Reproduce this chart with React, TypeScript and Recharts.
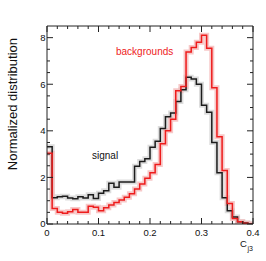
import { Line, LineChart, XAxis, YAxis } from "recharts";

const FONT = "'Liberation Sans', Arial, Helvetica, sans-serif";
const AXIS = "#222";
const RED = "#ee1c1c";
const BLACK = "#1c1c1c";

// lower edge of each 0.01 bin, plus the closing edge at 0.40
const binEdges = [
  0, 0.01, 0.02, 0.03, 0.04, 0.05, 0.06, 0.07, 0.08, 0.09, 0.1, 0.11, 0.12, 0.13, 0.14, 0.15, 0.16, 0.17, 0.18, 0.19,
  0.2, 0.21, 0.22, 0.23, 0.24, 0.25, 0.26, 0.27, 0.28, 0.29, 0.3, 0.31, 0.32, 0.33, 0.34, 0.35, 0.36, 0.37, 0.38, 0.39,
  0.4,
];

const signal = [
  3.32, 1.13, 1.17, 1.19, 1.12, 1.08, 1.17, 1.12, 1.26, 1.1, 1.32, 1.43, 1.75, 1.58, 1.8, 1.8, 1.8, 2.48, 2.68, 2.8,
  3.3, 3.55, 4.1, 4.6, 4.76, 5.26, 5.76, 6.3, 6.22, 6.0, 5.1, 4.8, 3.5, 2.2, 1.13, 0.57, 0.3, 0.1, 0.04, 0,
];

const backgrounds = [
  3.04, 0.67, 0.5, 0.46, 0.53, 0.62, 0.5, 0.5, 0.76, 0.72, 0.57, 0.7, 0.82, 0.92, 1.03, 1.15, 1.3, 1.5, 1.72, 1.96,
  2.2, 2.55, 3.45, 4.0, 4.5, 5.72, 5.9, 7.38, 7.58, 7.8, 8.1, 7.55, 5.85, 3.75, 2.3, 0.88, 0.24, 0.1, 0.03, 0,
];

const xTicks = [
  0, 0.02, 0.04, 0.06, 0.08, 0.1, 0.12, 0.14, 0.16, 0.18, 0.2, 0.22, 0.24, 0.26, 0.28, 0.3, 0.32, 0.34, 0.36, 0.38, 0.4,
];
const yTicks = [0, 0.5, 1, 1.5, 2, 2.5, 3, 3.5, 4, 4.5, 5, 5.5, 6, 6.5, 7, 7.5, 8];

const data = binEdges.map((x, i) => ({
  x,
  signal: signal[Math.min(i, signal.length - 1)],
  backgrounds: backgrounds[Math.min(i, backgrounds.length - 1)],
}));

const isMajorX = (v: number) => Math.abs(v * 10 - Math.round(v * 10)) < 1e-6;
const isMajorY = (v: number) => v % 2 === 0;

function tickX(side: "bottom" | "top") {
  return (props: any) => {
    const { x, y, payload } = props;
    const major = isMajorX(payload.value);
    const len = major ? 6 : 3;
    const dir = side === "bottom" ? -1 : 1;
    return (
      <g>
        <line x1={x} y1={y} x2={x} y2={y + dir * len} stroke={AXIS} strokeWidth={1} />
        {side === "bottom" && major && (
          <text x={x} y={y + 11.5} textAnchor="middle" fontSize={9.5} fontFamily={FONT} fill="#111">
            {String(Math.round(payload.value * 10) / 10)}
          </text>
        )}
      </g>
    );
  };
}

function tickY(side: "left" | "right") {
  return (props: any) => {
    const { x, y, payload } = props;
    const major = isMajorY(payload.value);
    const len = major ? 6 : 3;
    const dir = side === "left" ? 1 : -1;
    return (
      <g>
        <line x1={x} y1={y} x2={x + dir * len} y2={y} stroke={AXIS} strokeWidth={1} />
        {side === "left" && major && (
          <text x={x - 1.5} y={y + 3.4} textAnchor="end" fontSize={9.5} fontFamily={FONT} fill="#111">
            {payload.value}
          </text>
        )}
      </g>
    );
  };
}

export default function App() {
  return (
    <div style={{ position: "absolute", left: 0, top: 0, width: 266, height: 261, background: "#fff" }}>
      <LineChart width={266} height={261} data={data} margin={{ top: 25, right: 12, bottom: 36, left: 46 }}>
        <XAxis
          xAxisId="b"
          dataKey="x"
          type="number"
          domain={[0, 0.4]}
          allowDataOverflow
          ticks={xTicks}
          interval={0}
          height={1}
          tickSize={0}
          tickMargin={0}
          tickLine={false}
          axisLine={{ stroke: AXIS }}
          tick={tickX("bottom")}
        />
        <XAxis
          xAxisId="t"
          orientation="top"
          dataKey="x"
          type="number"
          domain={[0, 0.4]}
          allowDataOverflow
          ticks={xTicks}
          interval={0}
          height={1}
          tickSize={0}
          tickMargin={0}
          tickLine={false}
          axisLine={{ stroke: AXIS }}
          tick={tickX("top")}
        />
        <YAxis
          yAxisId="l"
          type="number"
          domain={[0, 8.5]}
          allowDataOverflow
          ticks={yTicks}
          interval={0}
          width={1}
          tickSize={0}
          tickMargin={0}
          tickLine={false}
          axisLine={{ stroke: AXIS }}
          tick={tickY("left")}
        />
        <YAxis
          yAxisId="r"
          orientation="right"
          type="number"
          domain={[0, 8.5]}
          allowDataOverflow
          ticks={yTicks}
          interval={0}
          width={1}
          tickSize={0}
          tickMargin={0}
          tickLine={false}
          axisLine={{ stroke: AXIS }}
          tick={tickY("right")}
        />
        <Line
          xAxisId="b"
          yAxisId="l"
          type="stepAfter"
          dataKey="signal"
          stroke="#cfcfcf"
          strokeOpacity={0.7}
          strokeWidth={5}
          dot={false}
          isAnimationActive={false}
        />
        <Line
          xAxisId="b"
          yAxisId="l"
          type="stepAfter"
          dataKey="backgrounds"
          stroke="#f3b0b0"
          strokeOpacity={0.7}
          strokeWidth={5}
          dot={false}
          isAnimationActive={false}
        />
        <Line
          xAxisId="b"
          yAxisId="l"
          type="stepAfter"
          dataKey="signal"
          stroke={BLACK}
          strokeWidth={1.5}
          dot={false}
          isAnimationActive={false}
        />
        <Line
          xAxisId="b"
          yAxisId="l"
          type="stepAfter"
          dataKey="backgrounds"
          stroke={RED}
          strokeWidth={1.5}
          dot={false}
          isAnimationActive={false}
        />
      </LineChart>
      <svg
        width={266}
        height={261}
        style={{ position: "absolute", left: 0, top: 0, pointerEvents: "none" }}
        fontFamily={FONT}
      >
        <text x={116} y={55} fontSize={10} fill={RED}>
          backgrounds
        </text>
        <text x={92} y={158.5} fontSize={10} fill="#111">
          signal
        </text>
        <text transform="translate(16.5,38) rotate(-90)" textAnchor="end" fontSize={13} fill="#111">
          Normalized distribution
        </text>
        <text x={240} y={247} fontSize={9.5} fill="#111">
          C
          <tspan dx={0.5} dy={4} fontSize={7}>
            j3
          </tspan>
        </text>
      </svg>
    </div>
  );
}
